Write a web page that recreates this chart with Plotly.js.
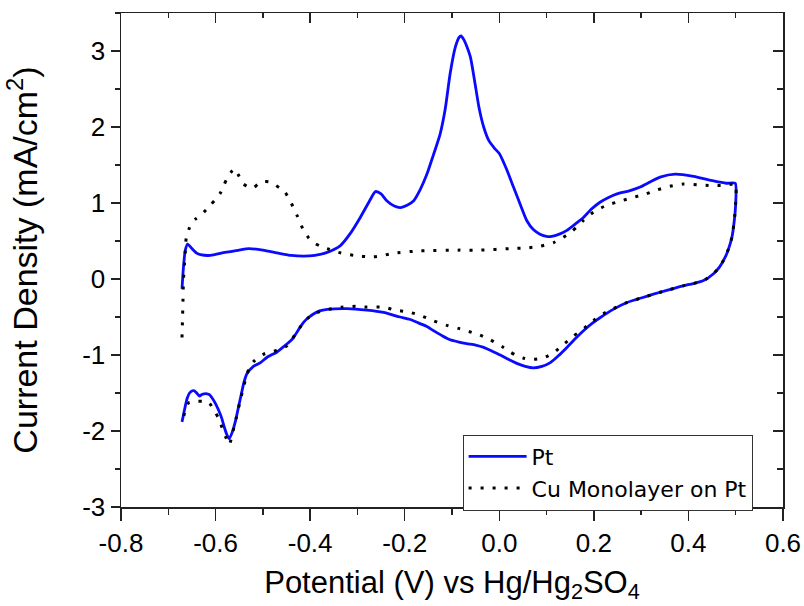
<!DOCTYPE html>
<html>
<head>
<meta charset="utf-8">
<script src="https://cdn.plot.ly/plotly-3.0.1.min.js"></script>
<style>html,body{margin:0;padding:0;background:#fff;}#chart{width:804px;height:606px;}</style>
</head>
<body>
<div id="chart"></div>
<script>
// Pt (blue solid) cyclic voltammogram: anodic sweep then cathodic sweep
const ptX = [-0.671,-0.668,-0.664,-0.659,-0.650,-0.640,-0.632,-0.611,-0.580,-0.550,-0.530,-0.500,-0.467,-0.440,-0.414,-0.390,-0.364,-0.336,-0.315,-0.294,-0.275,-0.262,-0.250,-0.238,-0.222,-0.209,-0.195,-0.181,-0.167,-0.153,-0.140,-0.125,-0.114,-0.104,-0.093,-0.085,-0.081,-0.075,-0.068,-0.061,-0.052,-0.043,-0.033,-0.022,-0.010,0.000,0.015,0.030,0.045,0.058,0.072,0.086,0.100,0.111,0.127,0.143,0.160,0.178,0.195,0.213,0.230,0.249,0.275,0.298,0.320,0.340,0.372,0.411,0.453,0.480,0.499,
  0.500,0.497,0.492,0.485,0.478,0.466,0.453,0.432,0.410,0.389,0.354,0.326,0.300,0.284,0.270,0.241,0.213,0.195,0.178,0.160,0.143,0.125,0.108,0.090,0.072,0.055,0.037,0.020,0.002,-0.015,-0.033,-0.050,-0.069,-0.085,-0.104,-0.120,-0.139,-0.155,-0.174,-0.190,-0.210,-0.245,-0.280,-0.322,-0.364,-0.380,-0.393,-0.404,-0.414,-0.425,-0.435,-0.446,-0.456,-0.470,-0.491,-0.505,-0.520,-0.534,-0.540,-0.544,-0.551,-0.558,-0.565,-0.571,-0.576,-0.581,-0.587,-0.594,-0.601,-0.608,-0.613,-0.618,-0.624,-0.629,-0.634,-0.640,-0.645,-0.649,-0.655,-0.660,-0.665,-0.671];
const ptY = [-0.13,0.15,0.38,0.46,0.40,0.34,0.32,0.31,0.35,0.38,0.40,0.38,0.34,0.31,0.30,0.31,0.35,0.44,0.60,0.81,1.02,1.15,1.12,1.03,0.96,0.94,0.97,1.03,1.18,1.38,1.62,1.91,2.25,2.70,3.05,3.18,3.20,3.15,3.05,2.92,2.60,2.26,2.00,1.82,1.72,1.65,1.45,1.21,0.97,0.77,0.65,0.59,0.56,0.56,0.59,0.64,0.72,0.81,0.92,1.01,1.07,1.12,1.16,1.21,1.28,1.34,1.38,1.35,1.29,1.26,1.26,
  1.00,0.77,0.55,0.40,0.29,0.16,0.07,-0.02,-0.06,-0.09,-0.15,-0.20,-0.25,-0.28,-0.31,-0.40,-0.51,-0.59,-0.68,-0.79,-0.90,-1.01,-1.10,-1.15,-1.17,-1.15,-1.11,-1.06,-1.00,-0.95,-0.90,-0.87,-0.85,-0.83,-0.80,-0.75,-0.68,-0.62,-0.57,-0.53,-0.50,-0.44,-0.41,-0.39,-0.40,-0.42,-0.46,-0.51,-0.57,-0.67,-0.77,-0.84,-0.89,-0.96,-1.03,-1.10,-1.15,-1.25,-1.36,-1.47,-1.67,-1.87,-2.02,-2.10,-2.05,-1.96,-1.83,-1.72,-1.63,-1.56,-1.52,-1.51,-1.51,-1.52,-1.54,-1.50,-1.47,-1.47,-1.50,-1.57,-1.70,-1.88];

// Cu monolayer on Pt (black dotted)
const cuX = [-0.671,-0.670,-0.669,-0.668,-0.666,-0.664,-0.662,-0.656,-0.652,-0.642,-0.632,-0.620,-0.611,-0.600,-0.590,-0.582,-0.576,-0.568,-0.560,-0.551,-0.541,-0.530,-0.520,-0.510,-0.499,-0.488,-0.477,-0.465,-0.453,-0.440,-0.428,-0.414,-0.403,-0.393,-0.378,-0.364,-0.340,-0.308,-0.269,-0.245,-0.224,-0.167,-0.083,-0.040,0.023,0.060,0.086,0.115,0.133,0.150,0.165,0.178,0.199,0.227,0.259,0.287,0.310,0.333,0.361,0.389,0.418,0.449,0.478,0.499,
  0.500,0.497,0.492,0.485,0.478,0.466,0.453,0.432,0.410,0.389,0.354,0.326,0.300,0.270,0.241,0.213,0.199,0.185,0.171,0.157,0.136,0.115,0.093,0.065,0.050,0.037,0.023,0.009,-0.019,-0.044,-0.065,-0.086,-0.111,-0.139,-0.171,-0.195,-0.220,-0.245,-0.280,-0.304,-0.333,-0.361,-0.389,-0.404,-0.414,-0.424,-0.432,-0.440,-0.449,-0.470,-0.495,-0.510,-0.520,-0.528,-0.534,-0.542,-0.549,-0.556,-0.563,-0.571,-0.577,-0.583,-0.594,-0.604,-0.612,-0.618,-0.628,-0.639,-0.650,-0.657,-0.663,-0.668,-0.671];
const cuY = [-0.77,-0.55,-0.30,-0.02,0.18,0.37,0.54,0.66,0.73,0.79,0.84,0.91,0.97,1.05,1.13,1.24,1.32,1.40,1.45,1.36,1.25,1.21,1.20,1.25,1.28,1.28,1.25,1.20,1.14,1.00,0.84,0.64,0.54,0.48,0.43,0.40,0.35,0.31,0.29,0.31,0.34,0.37,0.38,0.38,0.40,0.41,0.43,0.48,0.54,0.61,0.69,0.77,0.88,0.97,1.03,1.08,1.12,1.17,1.22,1.25,1.24,1.23,1.23,1.25,
  1.00,0.77,0.55,0.40,0.29,0.16,0.07,-0.02,-0.06,-0.09,-0.15,-0.20,-0.25,-0.31,-0.39,-0.48,-0.55,-0.62,-0.69,-0.75,-0.86,-0.97,-1.04,-1.06,-1.04,-1.01,-0.96,-0.90,-0.80,-0.73,-0.69,-0.65,-0.61,-0.55,-0.47,-0.43,-0.41,-0.37,-0.37,-0.36,-0.37,-0.40,-0.45,-0.51,-0.57,-0.66,-0.73,-0.81,-0.88,-0.94,-0.98,-1.03,-1.09,-1.16,-1.26,-1.45,-1.63,-1.82,-2.00,-2.18,-2.10,-2.01,-1.83,-1.72,-1.64,-1.61,-1.61,-1.61,-1.62,-1.63,-1.70,-1.82,-1.87];

const seriesNames = ["Pt", "Cu Monolayer on Pt"];
const xTickVals = [-0.8,-0.6,-0.4,-0.2,0.0,0.2,0.4,0.6];
const xTickText = ["-0.8","-0.6","-0.4","-0.2","0.0","0.2","0.4","0.6"];
const yTickVals = [-3,-2,-1,0,1,2,3];
const yTickText = ["-3","-2","-1","0","1","2","3"];

const FONT = "Liberation Sans, Arial, sans-serif";
const axisColor = "#222";

const traces = [
  {x: ptX, y: ptY, name: seriesNames[0], mode: "lines", type: "scatter",
   line: {color: "#0a0aff", width: 2.8, shape: "spline", smoothing: 0.6}},
  {x: cuX, y: cuY, name: seriesNames[1], mode: "lines", type: "scatter",
   line: {color: "#000000", width: 3, dash: "3px,9px", shape: "spline", smoothing: 0.6}},
  // empty helper trace so the mirrored top/right frame axes are drawn
  {x: [null], y: [null], xaxis: "x2", yaxis: "y2", mode: "lines", showlegend: false, hoverinfo: "skip", type: "scatter"}
];

const layout = {
  width: 804, height: 606,
  paper_bgcolor: "#fff", plot_bgcolor: "#fff",
  margin: {l: 121, r: 21, t: 13, b: 99},
  font: {family: FONT, color: "#000"},
  showlegend: true,
  legend: {
    x: 0.516, y: 0.1466, xanchor: "left", yanchor: "top",
    bordercolor: "#333", borderwidth: 1, bgcolor: "#fff",
    font: {family: "DejaVu Sans, Liberation Sans, sans-serif", size: 22, color: "#000"},
    itemwidth: 58, tracegroupgap: 0
  },
  xaxis: {
    range: [-0.8, 0.6], tickmode: "array", tickvals: xTickVals, ticktext: xTickText,
    ticks: "outside", ticklen: 12, tickwidth: 1.5, tickcolor: axisColor,
    minor: {dtick: 0.1, tick0: -0.8, ticks: "outside", ticklen: 6, tickwidth: 1.5, tickcolor: axisColor},
    showline: true, linecolor: axisColor, linewidth: 1.5, mirror: false,
    showgrid: false, zeroline: false,
    tickfont: {family: FONT, size: 26, color: "#000"},
    title: {text: "Potential (V) vs Hg/Hg<sub>2</sub>SO<sub>4</sub>", font: {family: FONT, size: 31, color: "#000"}, standoff: 14}
  },
  yaxis: {
    range: [-3, 3.5], tickmode: "array", tickvals: yTickVals, ticktext: yTickText,
    ticks: "outside", ticklen: 9, tickwidth: 1.5, tickcolor: axisColor,
    minor: {dtick: 0.5, tick0: -3, ticks: "outside", ticklen: 5, tickwidth: 1.5, tickcolor: axisColor},
    showline: true, linecolor: axisColor, linewidth: 1.5, mirror: false,
    showgrid: false, zeroline: false,
    tickfont: {family: FONT, size: 26, color: "#000"},
    title: {text: "Current Density (mA/cm<sup>2</sup>)", font: {family: FONT, size: 34, color: "#000"}, standoff: 34}
  },
  xaxis2: {
    overlaying: "x", side: "top", range: [-0.8, 0.6], tickmode: "array", tickvals: xTickVals,
    showticklabels: false, ticks: "inside", ticklen: 10, tickwidth: 1.5, tickcolor: axisColor,
    minor: {dtick: 0.1, tick0: -0.8, ticks: "inside", ticklen: 5, tickwidth: 1.5, tickcolor: axisColor},
    showline: true, linecolor: axisColor, linewidth: 1.5, showgrid: false, zeroline: false
  },
  yaxis2: {
    overlaying: "y", side: "right", range: [-3, 3.5], tickmode: "array", tickvals: yTickVals,
    showticklabels: false, ticks: "inside", ticklen: 10, tickwidth: 1.5, tickcolor: axisColor,
    minor: {dtick: 0.5, tick0: -3, ticks: "inside", ticklen: 6, tickwidth: 1.5, tickcolor: axisColor},
    showline: true, linecolor: axisColor, linewidth: 1.5, showgrid: false, zeroline: false
  }
};

Plotly.newPlot("chart", traces, layout, {displayModeBar: false, staticPlot: true});
</script>
</body>
</html>
